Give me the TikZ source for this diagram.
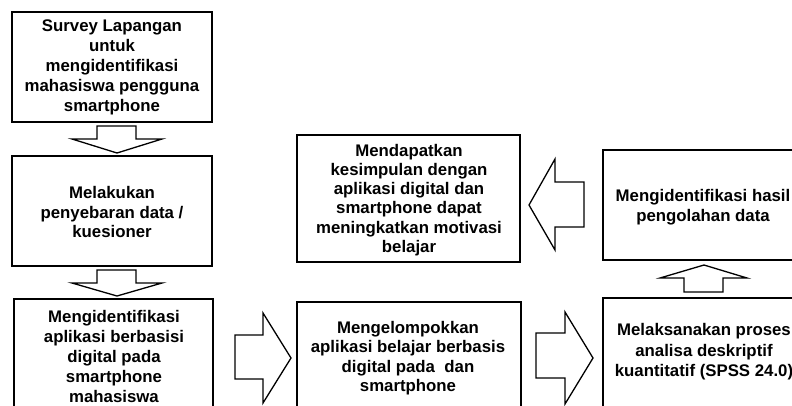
\documentclass[tikz,border=0pt]{standalone}
\usepackage{fontspec}
\setmainfont{Liberation Sans}
\begin{document}
\begin{tikzpicture}[x=1pt,y=-1pt,
  box/.style={draw=black,line width=1.8pt,fill=white},
  txt/.style={align=center,inner sep=0pt,font=\bfseries\fontsize{16.8}{20}\selectfont},
  blk/.style={draw=black,line width=1.3pt,fill=white,line join=miter}]
\useasboundingbox (0,0) rectangle (792,405);
\clip (0,0) rectangle (792,405);
% boxes
\draw[box] (12,12) rectangle (212,122);
\draw[box] (12,156) rectangle (212,266);
\draw[box] (14,299) rectangle (213,425);
\draw[box] (297,302) rectangle (521,425);
\draw[box] (603,298) rectangle (810,425);
\draw[box] (603,150) rectangle (810,260);
\draw[box] (297,135) rectangle (520,262);
% texts
\node[txt] (t1) at (112,67) {Survey Lapangan\\untuk\\mengidentifikasi\\mahasiswa pengguna\\smartphone};
\node[txt,font=\bfseries\fontsize{16.8}{19.5}\selectfont] (t2) at (112,212) {Melakukan\\penyebaran data /\\kuesioner};
\node[txt] (t3) at (114,356) {Mengidentifikasi\\aplikasi berbasisi\\digital pada\\smartphone\\mahasiswa};
\node[txt,font=\bfseries\fontsize{16.8}{19.3}\selectfont] (t4) at (408,358) {Mengelompokkan\\aplikasi belajar berbasis\\digital pada~ dan\\smartphone};
\node[txt,font=\bfseries\fontsize{16.8}{20.5}\selectfont] (t5) at (704,352) {Melaksanakan proses\\analisa deskriptif\\kuantitatif (SPSS 24.0)};
\node[txt] (t6) at (703,207) {Mengidentifikasi hasil\\pengolahan data};
\node[txt,font=\bfseries\fontsize{16.8}{19.2}\selectfont] (t7) at (409,200) {Mendapatkan\\kesimpulan dengan\\aplikasi digital dan\\smartphone dapat\\meningkatkan motivasi\\belajar};
% block arrows
\draw[blk] (97,126) -- (136,126) -- (136,139) -- (162,139) -- (117,153) -- (72,139) -- (97,139) -- cycle;
\draw[blk] (97,270) -- (136,270) -- (136,283) -- (162,283) -- (117,296) -- (72,283) -- (97,283) -- cycle;
\draw[blk] (235,335) -- (263,335) -- (263,313) -- (291,358) -- (263,403) -- (263,379) -- (235,379) -- cycle;
\draw[blk] (536,333) -- (565,333) -- (565,312) -- (593,358) -- (565,404) -- (565,378) -- (536,378) -- cycle;
\draw[blk] (684,292) -- (684,278) -- (660,278) -- (704,265) -- (747,278) -- (723,278) -- (723,292) -- cycle;
\draw[blk] (584,182) -- (555,182) -- (555,159) -- (529,205) -- (555,250) -- (555,227) -- (584,227) -- cycle;
\end{tikzpicture}
\end{document}
